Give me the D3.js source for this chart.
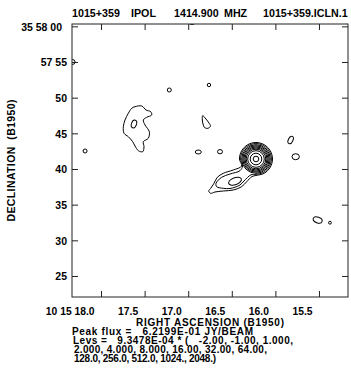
<!DOCTYPE html>
<html>
<head>
<meta charset="utf-8">
<script src="https://cdn.jsdelivr.net/npm/d3@7"></script>
<style>
body { margin: 0; background: #fff; }
text { font-family: "Liberation Sans", Arial, sans-serif; font-weight: bold; fill: #000; white-space: pre; }
</style>
</head>
<body>
<div id="chart-area"></div>
<script>
// axis ticks and labels
var raTicks = [18.0, 17.5, 17.0, 16.5, 16.0, 15.5]
var raLabels = ['10 15 18.0', '17.5', '17.0', '16.5', '16.0', '15.5']
var decTicks = [60, 55, 50, 45, 40, 35, 30, 25]
var decLabels = ['35 58 00', '57 55', '50', '45', '40', '35', '30', '25']

var titleParts = ['1015+359', 'IPOL', '1414.900', 'MHZ', '1015+359.ICLN.1']
var peakFlux = '6.2199E-01'
var levUnit = '9.3478E-04'
var levLabels = ['-2.00', '-1.00', '1.000', '2.000', '4.000', '8.000', '16.00', '32.00', '64.00',
  '128.0', '256.0', '512.0', '1024.', '2048.']

// contours, [RA sec, Dec arcsec]
var core = [16.2225, 41.402]
var coreRadii = [2.005, 1.851, 1.696, 1.542, 1.374, 1.164, 0.813, 0.393]   // levels 4 .. 512

var lev1 = [[16.412, 41.402], [16.387, 42.558], [16.317, 43.407], [16.223, 43.715], [16.128, 43.407],
  [16.059, 42.558], [16.033, 41.402], [16.059, 40.245], [16.128, 39.397], [16.223, 39.089],
  [16.268, 38.948], [16.329, 38.219], [16.387, 37.519], [16.483, 37.056], [16.598, 36.916],
  [16.693, 36.776], [16.742, 36.593], [16.765, 36.916], [16.742, 37.294], [16.704, 37.995],
  [16.666, 38.836], [16.598, 39.397], [16.483, 39.860], [16.387, 40.420]]

var lev2 = [[16.399, 41.402], [16.376, 42.481], [16.311, 43.272], [16.223, 43.561], [16.134, 43.272],
  [16.070, 42.481], [16.046, 41.402], [16.070, 40.322], [16.134, 39.532], [16.223, 39.243],
  [16.280, 39.187], [16.360, 38.318], [16.406, 37.757], [16.521, 37.266], [16.598, 37.294],
  [16.673, 37.519], [16.681, 37.995], [16.616, 38.836], [16.521, 39.299], [16.406, 39.762],
  [16.377, 40.420]]

var cloud = [[17.610, 48.734], [17.533, 48.832], [17.484, 48.271], [17.430, 48.033], [17.419, 47.570],
  [17.476, 47.248], [17.515, 46.869], [17.495, 46.168], [17.446, 45.229], [17.458, 44.304],
  [17.515, 43.827], [17.507, 43.126], [17.522, 42.425], [17.572, 42.566], [17.610, 43.224],
  [17.637, 43.827], [17.687, 44.528], [17.736, 45.005], [17.744, 45.930], [17.725, 46.869],
  [17.687, 47.809], [17.648, 48.509]]

var drop = [[16.834, 47.472], [16.796, 47.009], [16.762, 46.449], [16.744, 46.028], [16.773, 45.706],
  [16.813, 45.818], [16.830, 46.308], [16.838, 46.869]]

// small closed contours: RA, Dec, semi-axes (arcsec), tilt
var blobs = [
  [16.463, 38.290, 0.94, 0.49, -20],
  [17.622, 46.308, 0.35, 0.56, 20],
  [17.217, 51.075, 0.28, 0.28, 0],
  [16.762, 51.776, 0.24, 0.24, 0],
  [16.884, 42.383, 0.42, 0.28, 0],
  [16.635, 42.425, 0.35, 0.30, 0],
  [15.825, 44.065, 0.32, 0.56, 25],
  [15.767, 41.724, 0.52, 0.42, 0],
  [15.515, 32.850, 0.65, 0.40, 20],
  [15.374, 32.472, 0.20, 0.20, 0],
  [18.183, 42.523, 0.28, 0.28, 0],
  [18.330, 55.000, 0.40, 0.35, 0],
  [16.956, 60.608, 0.45, 0.35, 0]
]

var W = 351, H = 374
var mLeft = 72, mRight = 348, mTop = 24, mBottom = 297

var svg = d3.select('#chart-area').append('svg')
  .attr('width', W).attr('height', H)

var x = d3.scaleLinear().domain([18.333, 15.167]).range([mLeft, mRight])
var y = d3.scaleLinear().domain([22.056, 60.327]).range([mBottom, mTop])
var k = y(0) - y(1)   // px per arcsec

svg.append('clipPath').attr('id', 'frame')
  .append('rect').attr('x', mLeft).attr('y', mTop).attr('width', mRight - mLeft).attr('height', mBottom - mTop)

var g = svg.append('g').attr('clip-path', 'url(#frame)')
  .attr('fill', 'none').attr('stroke', '#000').attr('stroke-width', 1)

var line = d3.line().x(d => x(d[0])).y(d => y(d[1])).curve(d3.curveCatmullRomClosed)

g.selectAll('path.c').data([lev1, lev2, cloud, drop]).enter()
  .append('path').attr('class', 'c').attr('d', line)

g.selectAll('circle.core').data(coreRadii).enter()
  .append('circle').attr('class', 'core')
    .attr('cx', x(core[0])).attr('cy', y(core[1]))
    .attr('r', d => d * k)

g.selectAll('ellipse').data(blobs).enter()
  .append('ellipse')
    .attr('cx', d => x(d[0])).attr('cy', d => y(d[1]))
    .attr('rx', d => d[2] * k).attr('ry', d => d[3] * k)
    .attr('transform', d => `rotate(${d[4]}, ${x(d[0])}, ${y(d[1])})`)

// ticks on all four sides
function ticksOnly(sel) {
  sel.select('.domain').remove()
  sel.selectAll('line').attr('stroke', '#222')
}
svg.append('g').attr('transform', `translate(0, ${mBottom})`)
  .call(d3.axisBottom(x).tickValues(raTicks).tickSize(-6).tickFormat((d, i) => raLabels[i]))
  .call(ticksOnly)
  .call(s => s.selectAll('text').attr('font-size', '10.3px').attr('font-family', null)
    .attr('text-anchor', 'end').attr('x', -7).attr('y', 18).attr('dy', null))

svg.append('g').attr('transform', `translate(0, ${mTop})`)
  .call(d3.axisTop(x).tickValues(raTicks).tickSize(-6).tickFormat(''))
  .call(ticksOnly)

svg.append('g').attr('transform', `translate(${mLeft}, 0)`)
  .call(d3.axisLeft(y).tickValues(decTicks).tickSize(-6).tickFormat((d, i) => decLabels[i]))
  .call(ticksOnly)
  .call(s => s.selectAll('text').attr('font-size', '10.5px').attr('font-family', null)
    .attr('x', (d, i) => i == 0 ? -10 : -5).attr('dy', '0.36em'))

svg.append('g').attr('transform', `translate(${mRight}, 0)`)
  .call(d3.axisRight(y).tickValues(decTicks).tickSize(-6).tickFormat(''))
  .call(ticksOnly)

svg.append('rect')
  .attr('x', mLeft).attr('y', mTop).attr('width', mRight - mLeft).attr('height', mBottom - mTop)
  .attr('fill', 'none').attr('stroke', '#222').attr('stroke-width', 1)

// title line
var titleX = [72, 131, 174, 224, 263]
svg.selectAll('text.title').data(titleParts).enter()
  .append('text').attr('class', 'title')
    .attr('x', (d, i) => titleX[i]).attr('y', 17)
    .attr('font-size', '10.7px')
    .text(d => d)

svg.append('text')
  .attr('transform', 'translate(15, 160.5) rotate(-90)')
  .attr('text-anchor', 'middle').attr('font-size', '10.5px')
  .attr('textLength', 122).attr('lengthAdjust', 'spacing')
  .text('DECLINATION  (B1950)')

svg.append('text')
  .attr('x', 210).attr('y', 325.5).attr('text-anchor', 'middle').attr('font-size', '10px')
  .attr('textLength', 148).attr('lengthAdjust', 'spacing')
  .text('RIGHT ASCENSION (B1950)')

var notes = [
  { t: `Peak flux =   ${peakFlux} JY/BEAM`, x: 72, y: 335, w: 181 },
  { t: `Levs =   ${levUnit} * (   ${levLabels.slice(0, 3).join(', ')},`, x: 73, y: 344, w: 220 },
  { t: `${levLabels.slice(3, 9).join(', ')},`, x: 74, y: 353, w: 193 },
  { t: `${levLabels.slice(9).join(', ')})`, x: 74, y: 362, w: 142 }
]
svg.selectAll('text.note').data(notes).enter()
  .append('text').attr('class', 'note')
    .attr('x', d => d.x).attr('y', d => d.y)
    .attr('font-size', '10px')
    .attr('textLength', d => d.w).attr('lengthAdjust', 'spacing')
    .text(d => d.t)
</script>
</body>
</html>
